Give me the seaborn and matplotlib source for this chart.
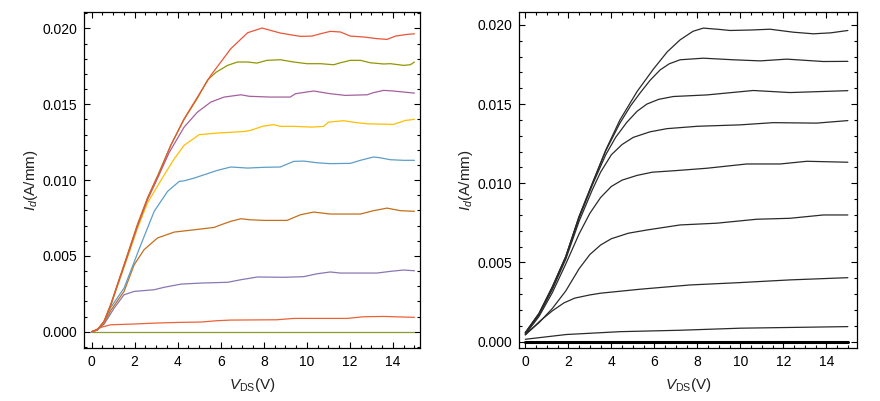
import numpy as np
import pandas as pd
import matplotlib
matplotlib.use("Agg")
import matplotlib.pyplot as plt
from matplotlib.ticker import MultipleLocator, FormatStrFormatter
import seaborn as sns

# ---- measured curves (V_DS in V, I_d in mA/mm) ----
# left panel: raw measurement
vds_a = [0, 0.27, 0.58, 0.89, 1.2, 1.67, 2.13, 2.6, 2.98, 3.1, 3.68, 4.3, 4.92, 5.54, 6.47, 7.25, 7.92,
         8.3, 8.77, 9.23, 9.7, 10.24, 10.63, 11.09, 11.56, 12.02, 12.64, 13.26, 13.73, 14.12, 14.66, 15.0]
id_a = [0, 0.13, 0.68, 1.78, 3.1, 5.08, 7.05, 8.81, 10.0, 10.3, 12.29, 14.04, 15.47, 16.9, 18.66, 19.71, 20.02,
        19.87, 19.69, 19.58, 19.47, 19.49, 19.64, 19.8, 19.76, 19.49, 19.43, 19.32, 19.27, 19.49, 19.6, 19.64]

vds_b = [0, 0.27, 0.58, 0.89, 1.2, 1.67, 2.13, 2.6, 2.98, 3.68, 4.3, 4.92, 5.39, 5.78, 6.32, 6.78, 7.25, 7.68,
         8.15, 8.77, 9.39, 10.01, 10.63, 11.25, 11.56, 12.02, 12.49, 12.95, 13.57, 13.88, 14.5, 14.81, 15.0]
id_b = [0, 0.13, 0.68, 1.78, 3.1, 5.08, 7.05, 8.81, 10.0, 12.29, 14.0, 15.4, 16.6, 17.1, 17.56, 17.78, 17.78, 17.71,
        17.89, 17.93, 17.78, 17.67, 17.67, 17.6, 17.73, 17.89, 17.89, 17.73, 17.65, 17.67, 17.56, 17.6, 17.78]

vds_c = [0, 0.27, 0.58, 0.89, 1.2, 1.67, 2.13, 2.6, 2.98, 3.6, 4.3, 4.92, 5.54, 6.16, 6.94, 7.33, 8.3, 9.23,
         9.47, 10.32, 11.09, 11.79, 12.8, 13.1, 13.57, 14.0, 14.5, 15.0]
id_c = [0, 0.13, 0.68, 1.75, 3.05, 5.0, 6.95, 8.7, 9.85, 11.8, 13.49, 14.48, 15.14, 15.47, 15.62, 15.52, 15.47, 15.47,
        15.69, 15.87, 15.69, 15.58, 15.62, 15.76, 15.91, 15.87, 15.8, 15.73]

vds_d = [0, 0.27, 0.58, 0.89, 1.2, 1.67, 2.13, 2.6, 3.22, 3.84, 4.3, 5.0, 5.85, 7.09, 7.37, 7.99, 8.46, 8.77,
         9.39, 10.24, 10.78, 11.01, 11.71, 12.33, 12.8, 13.26, 14.04, 14.58, 15.0]
id_d = [0, 0.13, 0.66, 1.72, 3.0, 4.9, 6.8, 8.5, 9.98, 11.4, 12.29, 12.99, 13.1, 13.2, 13.27, 13.56, 13.65, 13.54,
        13.54, 13.49, 13.54, 13.82, 13.91, 13.78, 13.71, 13.69, 13.67, 13.93, 14.0]

vds_e = [0, 0.27, 0.58, 0.89, 1.51, 2.29, 2.91, 3.53, 4.07, 4.3, 4.77, 5.0, 5.85, 6.47, 7.25, 8.02, 8.77, 9.39,
         9.86, 10.47, 11.09, 12.02, 12.49, 13.1, 13.4, 13.88, 14.5, 15.0]
id_e = [0, 0.13, 0.62, 1.6, 2.88, 5.74, 7.94, 9.25, 9.91, 9.95, 10.13, 10.24, 10.64, 10.86, 10.79, 10.84, 10.86, 11.23,
        11.25, 11.14, 11.08, 11.1, 11.3, 11.52, 11.47, 11.34, 11.3, 11.3]

vds_f = [0, 0.27, 0.58, 0.89, 1.51, 1.98, 2.44, 3.06, 3.84, 4.77, 5.7, 6.01, 6.47, 6.94, 7.37, 8.02, 9.08, 9.7,
         10.32, 11.09, 12.49, 13.1, 13.73, 14.35, 15.0]
id_f = [0, 0.12, 0.55, 1.4, 2.66, 4.42, 5.41, 6.18, 6.57, 6.72, 6.88, 7.05, 7.28, 7.45, 7.38, 7.34, 7.34, 7.71,
        7.89, 7.76, 7.76, 7.98, 8.15, 7.98, 7.94]

vds_g = [0, 0.27, 0.58, 1.05, 1.51, 1.98, 2.91, 3.37, 4.15, 5.08, 6.32, 6.94, 7.71, 8.92, 9.85, 10.47, 11.09,
         11.56, 13.26, 13.88, 14.5, 15.0]
id_g = [0, 0.12, 0.5, 1.56, 2.44, 2.66, 2.77, 2.93, 3.14, 3.21, 3.26, 3.43, 3.61, 3.59, 3.63, 3.82, 3.94,
        3.87, 3.87, 3.98, 4.07, 4.02]

vds_h = [0, 0.43, 0.89, 1.98, 2.91, 4.15, 5.08, 5.85, 6.47, 8.61, 9.39, 11.87, 12.64, 13.57, 15.0]
id_h = [0, 0.29, 0.46, 0.51, 0.57, 0.62, 0.64, 0.73, 0.77, 0.79, 0.88, 0.88, 0.99, 1.01, 0.95]

vds_z = [0, 15.0]
id_z = [0, 0]

# right panel: model
vds_r1 = [0, 0.64, 1.26, 1.88, 2.5, 3.12, 3.74, 4.4, 5.2, 5.95, 6.6, 7.2, 7.8, 8.28, 9.0, 9.52, 10.5, 11.38,
          12.47, 13.4, 14.2, 15.0]
id_r1 = [0.57, 1.79, 3.47, 5.37, 7.9, 10.0, 12.1, 14.0, 15.8, 17.2, 18.3, 19.06, 19.6, 19.8, 19.72, 19.65, 19.68,
         19.73, 19.54, 19.44, 19.5, 19.65]

vds_r2 = [0, 0.64, 1.26, 1.88, 2.5, 3.12, 3.74, 4.4, 4.9, 5.33, 5.8, 6.27, 6.7, 7.2, 8.28, 9.67, 10.92, 12.16,
          13.86, 15.0]
id_r2 = [0.57, 1.79, 3.47, 5.37, 7.9, 10.0, 12.05, 13.8, 14.9, 15.69, 16.5, 17.16, 17.55, 17.8, 17.9, 17.8, 17.73,
         17.84, 17.69, 17.7]

vds_r3 = [0, 0.64, 1.26, 1.88, 2.5, 3.12, 3.74, 4.2, 4.72, 5.2, 5.65, 6.2, 6.88, 8.44, 10.6, 12.31, 15.0]
id_r3 = [0.55, 1.75, 3.4, 5.3, 7.8, 9.9, 11.8, 12.9, 13.85, 14.55, 15.0, 15.3, 15.48, 15.58, 15.86, 15.73, 15.85]

vds_r4 = [0, 0.64, 1.26, 1.88, 2.5, 3.12, 3.5, 4.0, 4.5, 5.02, 5.8, 6.58, 8.0, 9.99, 11.53, 13.55, 15.0]
id_r4 = [0.5, 1.7, 3.3, 5.2, 7.6, 9.6, 10.7, 11.8, 12.45, 12.9, 13.25, 13.45, 13.6, 13.69, 13.83, 13.8, 13.96]

vds_r5 = [0, 0.64, 1.26, 1.88, 2.5, 3.0, 3.5, 4.0, 4.5, 5.2, 5.9, 6.99, 8.44, 10.3, 11.85, 13.09, 15.0]
id_r5 = [0.45, 1.6, 3.1, 4.9, 6.8, 8.1, 9.1, 9.8, 10.2, 10.5, 10.7, 10.8, 10.95, 11.22, 11.22, 11.39, 11.33]

vds_r6 = [0, 0.64, 1.26, 1.88, 2.5, 3.0, 3.5, 4.0, 4.8, 5.65, 7.2, 8.9, 10.76, 12.31, 13.86, 15.0]
id_r6 = [0.45, 1.2, 2.1, 3.2, 4.6, 5.5, 6.1, 6.5, 6.85, 7.05, 7.37, 7.48, 7.73, 7.79, 8.0, 8.0]

vds_r7 = [0, 0.68, 1.26, 1.8, 2.3, 3.0, 3.5, 5.33, 7.66, 9.99, 12.31, 15.0]
id_r7 = [0.42, 1.3, 1.95, 2.45, 2.75, 2.95, 3.06, 3.31, 3.58, 3.73, 3.9, 4.04]

vds_r8 = [0, 1.9, 4.4, 7.2, 10.0, 15.0]
id_r8 = [0.15, 0.45, 0.63, 0.72, 0.85, 0.95]

left_curves = [("z", vds_z, id_z), ("h", vds_h, id_h), ("g", vds_g, id_g), ("f", vds_f, id_f),
               ("e", vds_e, id_e), ("d", vds_d, id_d), ("c", vds_c, id_c), ("b", vds_b, id_b),
               ("a", vds_a, id_a)]
left_colors = {"z": "#8c9a30", "h": "#eb6235", "g": "#8778b3", "f": "#c56e1a", "e": "#5d9ec7",
               "d": "#ffbf00", "c": "#a5609d", "b": "#929600", "a": "#e95536"}

right_curves = [("r1", vds_r1, id_r1), ("r2", vds_r2, id_r2), ("r3", vds_r3, id_r3), ("r4", vds_r4, id_r4),
                ("r5", vds_r5, id_r5), ("r6", vds_r6, id_r6), ("r7", vds_r7, id_r7), ("r8", vds_r8, id_r8)]


def to_frame(curves):
    rows = []
    for name, v, i in curves:
        for vv, ii in zip(v, i):
            rows.append({"curve": name, "vds": vv, "id": ii / 1000.0})
    return pd.DataFrame(rows)


sns.set_theme(style="ticks")
plt.rcParams["font.family"] = ["Liberation Sans", "DejaVu Sans"]
plt.rcParams["mathtext.fontset"] = "custom"
plt.rcParams["mathtext.rm"] = "Liberation Sans"
plt.rcParams["mathtext.it"] = "Liberation Sans:italic"

fig = plt.figure(figsize=(8.8, 4.01), dpi=100)
ax1 = fig.add_axes([0.0955, 0.1322, 0.3818, 0.838])
ax2 = fig.add_axes([0.5901, 0.1322, 0.3834, 0.838])

df_l = to_frame(left_curves)
sns.lineplot(data=df_l, x="vds", y="id", hue="curve", palette=left_colors, sort=False,
             estimator=None, linewidth=0.9, legend=False, ax=ax1)

df_r = to_frame(right_curves)
sns.lineplot(data=df_r, x="vds", y="id", units="curve", color="#2a2a2a", sort=False,
             estimator=None, linewidth=0.9, legend=False, ax=ax2)
sns.lineplot(x=vds_z, y=[v / 1000.0 for v in id_z], color="black", linewidth=2.2, ax=ax2)

ax1.set_xlim(-0.35, 15.26)
ax1.set_ylim(-0.00107, 0.02108)
ax2.set_xlim(-0.28, 15.41)
ax2.set_ylim(-0.0004, 0.02082)

for ax in (ax1, ax2):
    ax.xaxis.set_major_locator(MultipleLocator(2))
    ax.xaxis.set_minor_locator(MultipleLocator(0.5))
    ax.yaxis.set_major_locator(MultipleLocator(0.005))
    ax.yaxis.set_minor_locator(MultipleLocator(0.001))
    ax.yaxis.set_major_formatter(FormatStrFormatter("%.3f"))
    ax.tick_params(which="both", direction="in", top=True, right=True, colors="black",
                   labelsize=10, width=0.8)
    ax.tick_params(which="major", length=4, pad=5)
    ax.tick_params(which="minor", length=2.2)
    for sp in ax.spines.values():
        sp.set_color("black")
        sp.set_linewidth(0.9)
    ax.set_xlabel(r"$V_{\rm DS}$(V)", fontsize=11, color="#222222", labelpad=5)
    ax.set_ylabel(r"$I_d$(A/mm)", fontsize=11, color="#222222", labelpad=1.5)

fig.savefig("out.png", dpi=100)
